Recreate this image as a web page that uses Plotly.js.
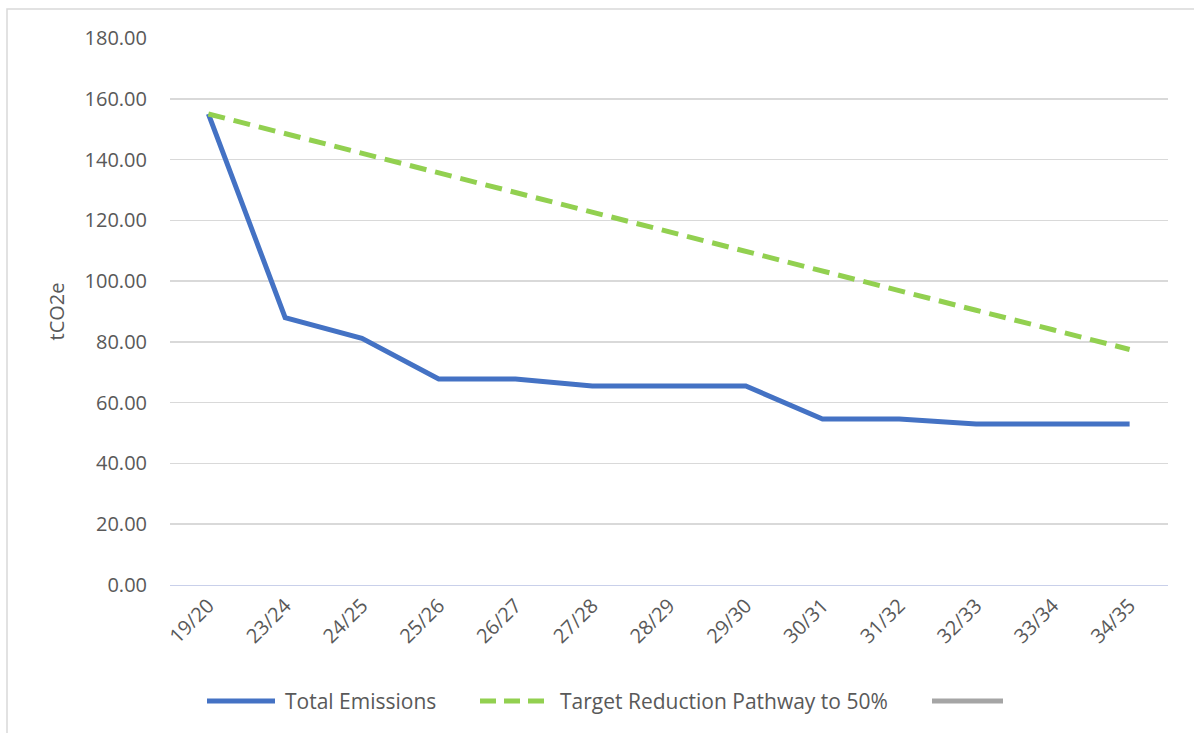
<!DOCTYPE html>
<html><head><meta charset="utf-8">
<script src="https://cdn.plot.ly/plotly-3.0.1.min.js"></script>
<style>html,body{margin:0;padding:0;background:#fff}#chart{width:1194px;height:733px}</style>
</head><body><div id="chart"></div>
<script>
const categories = ["19/20","23/24","24/25","25/26","26/27","27/28","28/29","29/30","30/31","31/32","32/33","33/34","34/35"];
const totalEmissions = [155.0, 88.0, 81.2, 67.8, 67.8, 65.5, 65.5, 65.5, 54.6, 54.6, 53.0, 53.0, 53.0];
const targetPathway = [155.0, 148.5, 142.1, 135.6, 129.2, 122.7, 116.3, 109.8, 103.3, 96.9, 90.4, 84.0, 77.5];
const thirdSeries = [null,null,null,null,null,null,null,null,null,null,null,null,null];
const seriesNames = ["Total Emissions", "Target Reduction Pathway to 50%", ""];
const yTicks = [0,20,40,60,80,100,120,140,160,180];

const L=170, R=1168, T=38, B=585;
const px = v => (v - L) / (R - L);
const py = v => (B - v) / (B - T);

const colors = ['#4472c4', '#92d050', '#a5a5a5'];
const dashes = ['solid', '17px,9px', 'solid'];

const traces = [
  {x: categories, y: totalEmissions, type:'scatter', mode:'lines', name:seriesNames[0],
   line:{color:colors[0], width:5}},
  {x: categories, y: targetPathway, type:'scatter', mode:'lines', name:seriesNames[1],
   line:{color:colors[1], width:5, dash:dashes[1]}},
  {x: categories, y: thirdSeries, type:'scatter', mode:'lines', name:seriesNames[2],
   line:{color:colors[2], width:5}}
];

// custom legend (Excel-style long line symbols)
const legY = 701;
const legItems = [
  {x0:207, x1:275, tx:283},
  {x0:480, x1:546, tx:558},
  {x0:932, x1:1003, tx:null}
];
const shapes = [
  {type:'rect', xref:'paper', yref:'paper', x0:px(7), x1:px(1200), y0:py(745), y1:py(9),
   line:{color:'#d9d9d9', width:1.5}, fillcolor:'rgba(0,0,0,0)', layer:'below'}
];
const annotations = [];
legItems.forEach((it, i) => {
  shapes.push({type:'line', xref:'paper', yref:'paper', x0:px(it.x0), x1:px(it.x1), y0:py(legY), y1:py(legY),
    line:{color:colors[i], width:5, dash: i===1 ? '16px,8px' : 'solid'}});
  if (it.tx !== null && seriesNames[i]) {
    annotations.push({xref:'paper', yref:'paper', x:px(it.tx), y:py(legY), xanchor:'left', yanchor:'middle',
      text:seriesNames[i], showarrow:false, font:{size:21, color:'#595959'}});
  }
});

const layout = {
  width:1194, height:733,
  margin:{l:L, r:1194-R, t:T, b:733-B},
  paper_bgcolor:'#fff', plot_bgcolor:'#fff',
  font:{family:'"Open Sans", sans-serif', color:'#595959', size:20},
  showlegend:false,
  xaxis:{type:'category', range:[-0.5,12.5], tickangle:-45, showgrid:false,
         showline:true, linecolor:'#c9d0ea', linewidth:1, ticks:'', zeroline:false,
         tickfont:{size:20, color:'#595959'}},
  yaxis:{range:[0,180], tickvals:yTicks, ticktext:yTicks.map(v=>v.toFixed(2)),
         showgrid:true, gridcolor:'#d9d9d9', gridwidth:1.5, zeroline:false, showline:false,
         ticks:'', ticklen:0, ticklabelstandoff:22, tickfont:{size:20, color:'#595959'},
         title:{text:'tCO2e', font:{size:20, color:'#595959'}, standoff:14}},
  shapes: shapes,
  annotations: annotations
};
Plotly.newPlot('chart', traces, layout, {displayModeBar:false, staticPlot:true});
</script></body></html>
